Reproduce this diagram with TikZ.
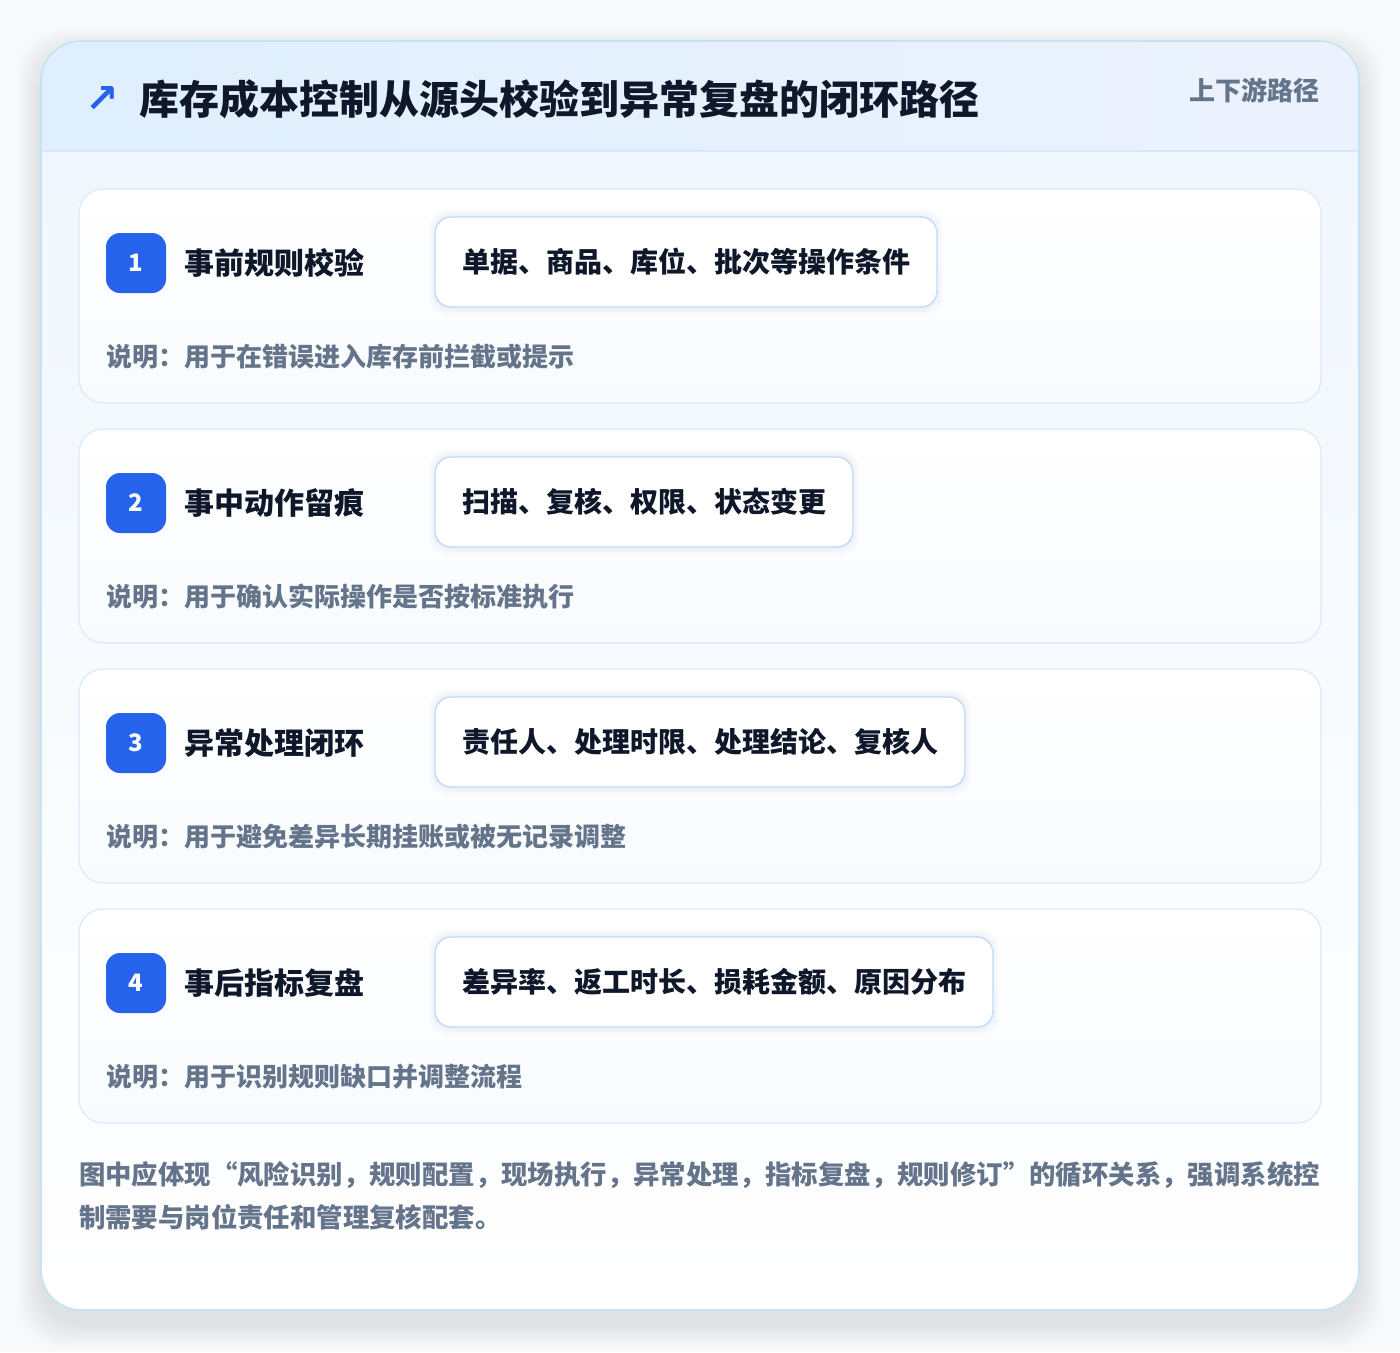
\documentclass[tikz,border=0pt]{standalone}
\usepackage{fontspec}
\setmainfont{Noto Sans CJK SC}
\newfontfamily\symf{DejaVu Sans}
\usetikzlibrary{shadows}
\definecolor{bgc}{HTML}{F8F9FB}
\definecolor{cardb}{HTML}{C3E3F7}
\definecolor{headl}{HTML}{DFEFFD}
\definecolor{headr}{HTML}{ECF2FD}
\definecolor{headline}{HTML}{D6E8FB}
\definecolor{bodytop}{HTML}{F1F7FE}
\definecolor{stepb}{HTML}{D9EAFB}
\definecolor{stepbot}{HTML}{F8FBFE}
\definecolor{badgec}{HTML}{2563EB}
\definecolor{ink}{HTML}{0F172A}
\definecolor{tagb}{HTML}{BFDBFE}
\definecolor{muted}{HTML}{64748B}
\tikzset{
  stepcard/.style={draw=stepb, line width=1.2pt, rounded corners=24pt, top color=white, bottom color=stepbot, minimum width=1242pt, minimum height=214pt, anchor=north west},
  badge/.style={fill=badgec, rounded corners=14pt, minimum width=60pt, minimum height=60pt, text=white, font=\fontsize{24}{28}\selectfont\bfseries},
  steptitle/.style={anchor=west, text=ink, font=\fontsize{30}{36}\selectfont\bfseries},
  tagbox/.style={anchor=west, draw=tagb, line width=1.4pt, fill=white, rounded corners=16pt, minimum height=90pt, inner xsep=27pt, text=ink, font=\fontsize{28}{34}\selectfont\bfseries},
  desc/.style={anchor=west, text=muted, font=\fontsize{26}{32}\selectfont\bfseries},
  every node/.style={inner sep=0pt, outer sep=0pt}
}
\begin{document}
\begin{tikzpicture}[x=1pt,y=-1pt]
\useasboundingbox (0,0) rectangle (1400,1352);
\fill[bgc] (0,0) rectangle (1400,1352);
% main card shadow
\foreach \i in {1,...,12}{
  \fill[black, opacity=0.007, rounded corners=46pt] (41-2*\i,53-2*\i) rectangle (1359+2*\i,1324+2*\i);
}
\node[fill=white, rounded corners=40pt, minimum width=1318pt, minimum height=1269pt, anchor=north west] (card) at (41,41) {};
\begin{scope}
  \clip[rounded corners=40pt] (41,41) rectangle (1359,1310);
  \shade[top color=bodytop, bottom color=white] (41,151) rectangle (1359,1310);
  \shade[left color=headl, right color=headr] (41,41) rectangle (1359,151);
  \draw[headline, line width=1.2pt] (41,151) -- (1359,151);
\end{scope}
\draw[cardb, line width=1.6pt, rounded corners=40pt] (41,41) rectangle (1359,1310);
% header
\node[anchor=center, text=badgec, font=\symf\fontsize{40}{46}\selectfont\bfseries] (arrow) at (102,99) {↗};
\node[anchor=west, text=ink, font=\fontsize{40}{48}\selectfont\bfseries] (title) at (139,99) {库存成本控制从源头校验到异常复盘的闭环路径};
\node[anchor=east, text=muted, font=\fontsize{26}{32}\selectfont\bfseries] (sub) at (1319,90) {上下游路径};
% steps
\foreach \k/\y/\t/\g/\d in {
  1/189/事前规则校验/单据、商品、库位、批次等操作条件/说明：用于在错误进入库存前拦截或提示,
  2/429/事中动作留痕/扫描、复核、权限、状态变更/说明：用于确认实际操作是否按标准执行,
  3/669/异常处理闭环/责任人、处理时限、处理结论、复核人/说明：用于避免差异长期挂账或被无记录调整,
  4/909/事后指标复盘/差异率、返工时长、损耗金额、原因分布/说明：用于识别规则缺口并调整流程}{
  \node[stepcard] (card\k) at (79,\y) {};
  \node[badge] (badge\k) at (136,\y+74) {\k};
  \node[steptitle] (title\k) at (184,\y+74) {\t};
  \node[tagbox, opacity=0] (ghost\k) at (435,\y+73) {\g};
  \foreach \j in {1,...,6}{
    \fill[badgec, opacity=0.008, rounded corners=18pt] ([xshift=-\j pt, yshift=-2pt-\j pt]ghost\k.south west) rectangle ([xshift=\j pt, yshift=2pt+\j pt]ghost\k.north east);
  }
  \node[tagbox] (tag\k) at (435,\y+73) {\g};
  \node[desc] (desc\k) at (106,\y+168) {\d};
}
% footer
\node[desc, font=\fontsize{26.4}{32}\selectfont\bfseries] (foot1) at (79,1175) {图中应体现“风险识别，规则配置，现场执行，异常处理，指标复盘，规则修订”的循环关系，强调系统控};
\node[desc, font=\fontsize{26.4}{32}\selectfont\bfseries] (foot2) at (79,1217) {制需要与岗位责任和管理复核配套。};
\end{tikzpicture}
\end{document}
